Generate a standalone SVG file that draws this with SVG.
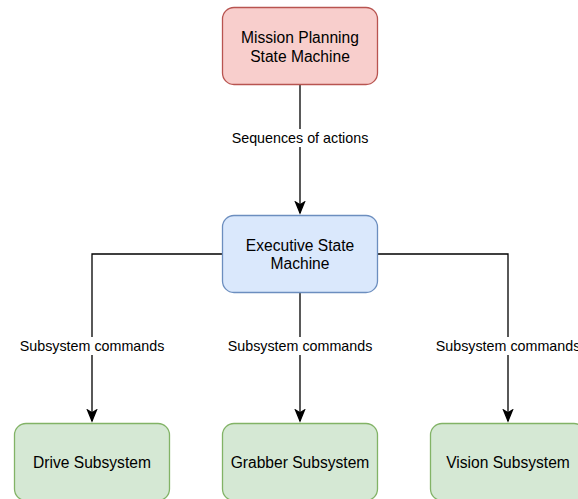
<svg xmlns="http://www.w3.org/2000/svg" width="578" height="499" viewBox="0 0 578 499">
<style>
.node text{font-family:"Liberation Sans",Arial,sans-serif;font-size:15.6px;fill:#000;text-anchor:middle}
.node rect{stroke-width:1.3}
.red{fill:#f8cecc;stroke:#b85450}
.blue{fill:#dae8fc;stroke:#6c8ebf}
.green{fill:#d5e8d4;stroke:#82b366}
.edge{fill:none;stroke:#000;stroke-width:1.3}
.lbl{font-family:"Liberation Sans",Arial,sans-serif;font-size:14.3px;fill:#000;text-anchor:middle}
.lblbg{fill:#fff}
</style>
<defs>
<marker id="arr" markerUnits="userSpaceOnUse" markerWidth="14" markerHeight="14" viewBox="0 0 14 14" refX="12" refY="7" orient="auto">
<path d="M1,2.5 L12,7 L1,11.5 L3.8,7 Z" fill="#000" stroke="#000" stroke-width="1.3"/>
</marker>
</defs>
<g id="connectors">
<path class="edge" d="M300,85 L300,213" marker-end="url(#arr)"/>
<path class="edge" d="M222,254 L92,254 L92,421" marker-end="url(#arr)"/>
<path class="edge" d="M300,293 L300,421" marker-end="url(#arr)"/>
<path class="edge" d="M378,254 L508,254 L508,421" marker-end="url(#arr)"/>
<rect class="lblbg" x="231" y="129" width="139" height="18"/>
<text class="lbl" x="300" y="142.5">Sequences of actions</text>
<rect class="lblbg" x="20" y="337" width="145" height="18"/>
<text class="lbl" x="92" y="351">Subsystem commands</text>
<rect class="lblbg" x="228" y="337" width="145" height="18"/>
<text class="lbl" x="300" y="351">Subsystem commands</text>
<rect class="lblbg" x="436" y="337" width="145" height="18"/>
<text class="lbl" x="508" y="351">Subsystem commands</text>
</g>
<g id="mission" class="node">
<rect class="red" x="222.5" y="7.5" width="155" height="77" rx="11.5"/>
<text x="300" y="43">Mission Planning</text>
<text x="300" y="61.5">State Machine</text>
</g>
<g id="executive" class="node">
<rect class="blue" x="222.5" y="215.5" width="155" height="77" rx="11.5"/>
<text x="300" y="251">Executive State</text>
<text x="300" y="269">Machine</text>
</g>
<g id="drive" class="node">
<rect class="green" x="14.5" y="423.5" width="155" height="77" rx="11.5"/>
<text x="92" y="468">Drive Subsystem</text>
</g>
<g id="grabber" class="node">
<rect class="green" x="222.5" y="423.5" width="155" height="77" rx="11.5"/>
<text x="300" y="468">Grabber Subsystem</text>
</g>
<g id="vision" class="node">
<rect class="green" x="430.5" y="423.5" width="155" height="77" rx="11.5"/>
<text x="508" y="468">Vision Subsystem</text>
</g>
</svg>
